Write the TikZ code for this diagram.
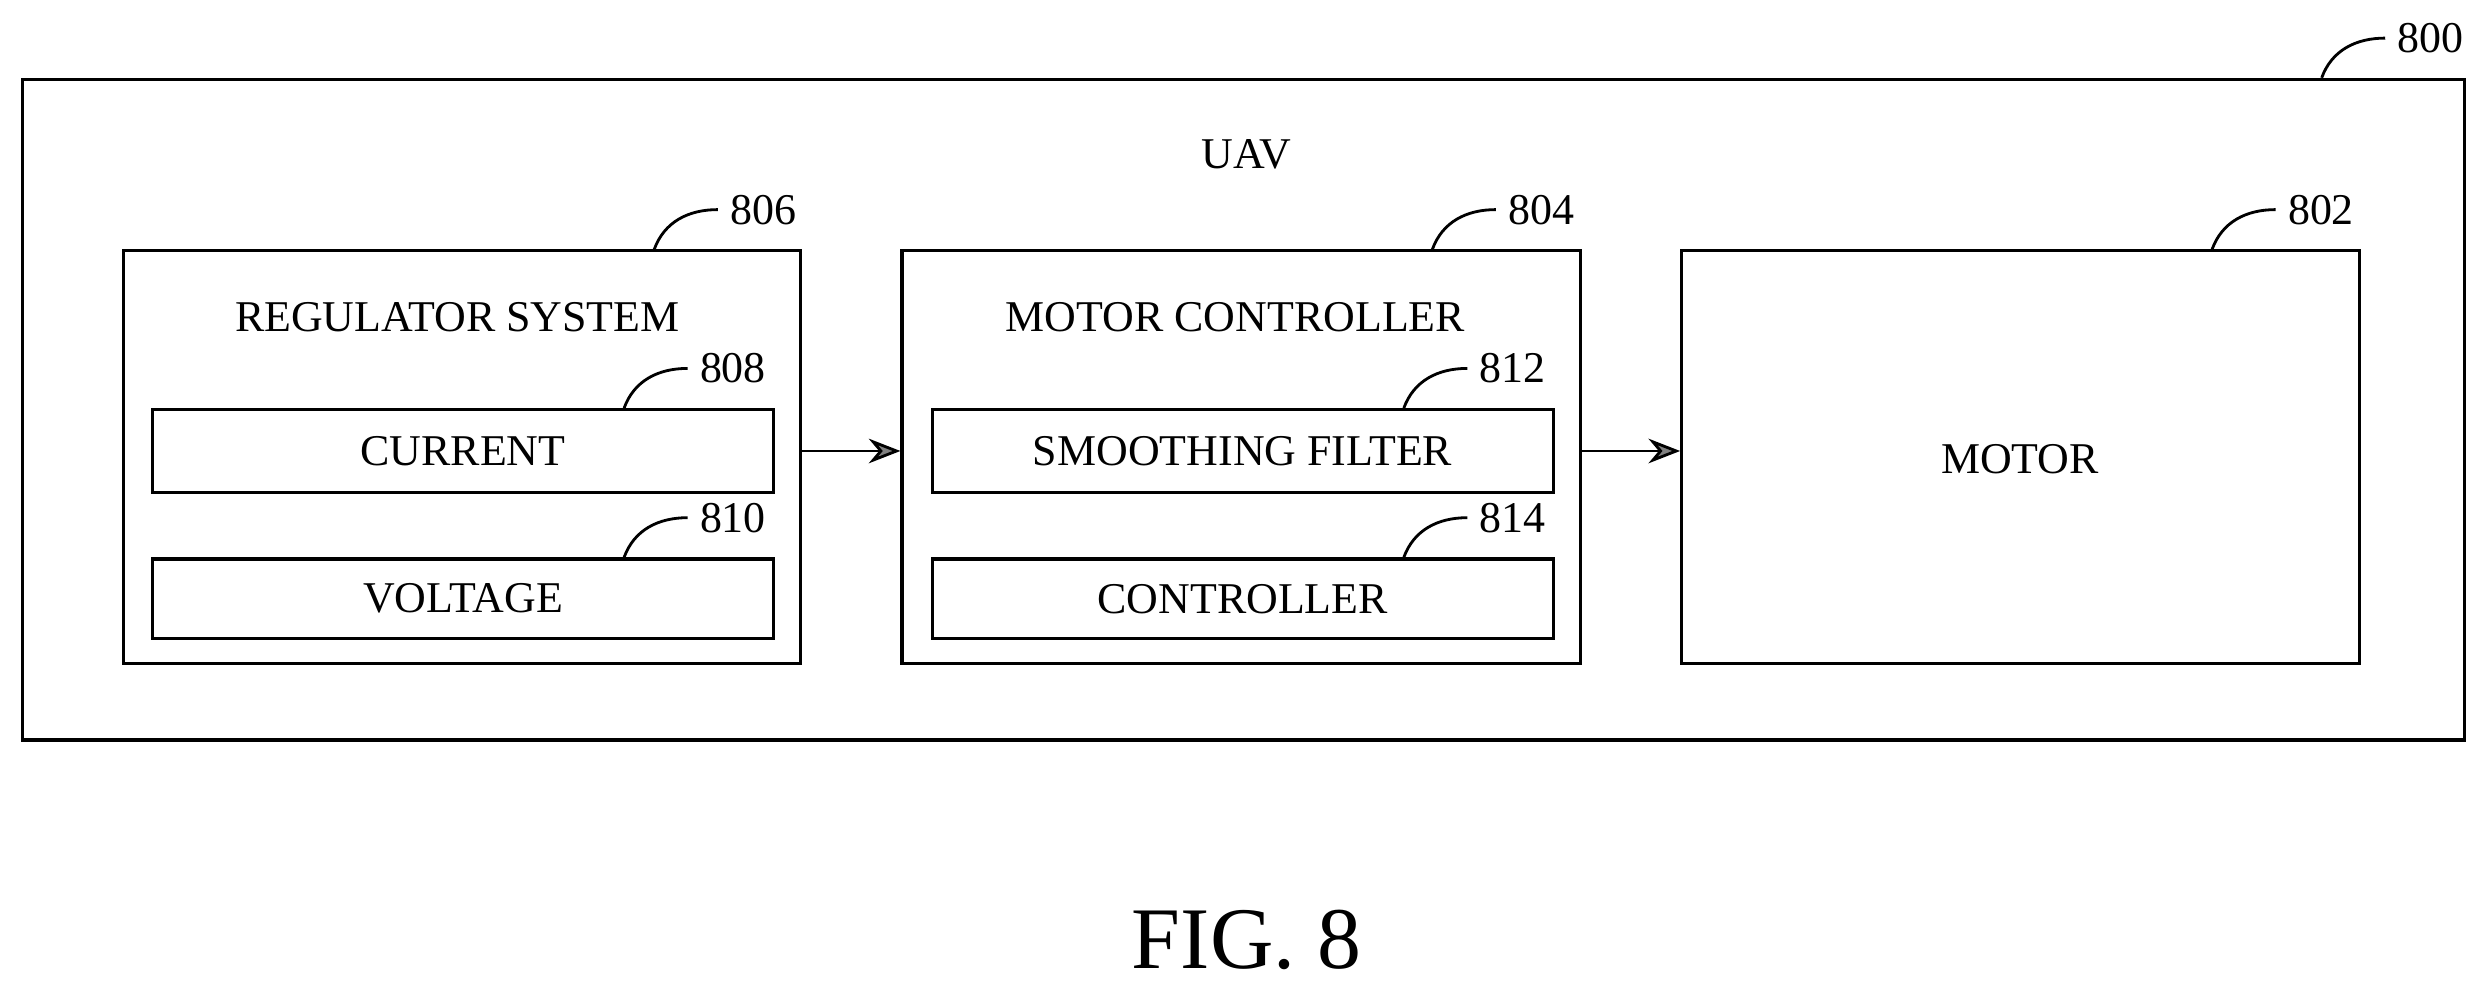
\documentclass[tikz,border=0pt]{standalone}
\usepackage{fontspec}
\setmainfont{Liberation Serif}
\usetikzlibrary{positioning,arrows.meta}
\tikzset{
  blk/.style={draw,line width=0.9pt,inner sep=0pt},
  txt/.style={font=\fontsize{12.5}{14}\selectfont},
  lead/.style={line width=0.8pt},
  flow/.style={line width=0.8pt,-{Stealth[length=9pt,width=7pt,fill=gray]}}
}
\newcommand{\refnum}[3]{% name, start, text
  \node[txt,anchor=west] (#1) at ($(#2)+(40,-25)$) {#3};
  \draw[lead] (#2) to[out=70,in=180] (#1.west);
}
\usetikzlibrary{calc}
\begin{document}
\begin{tikzpicture}[x=0.01588cm,y=-0.01588cm]
\useasboundingbox (0,0) rectangle (1568,625);
% frame
\node[blk,minimum width=1538*0.01588cm,minimum height=416*0.01588cm] (uav) at (783,258) {};
\node[txt] (uavt) at (785,97) {UAV};
% blocks
\node[blk,minimum width=426*0.01588cm,minimum height=260*0.01588cm] (reg) at (291,288) {};
\node[blk,minimum width=427*0.01588cm,minimum height=260*0.01588cm] (mc) at (781.5,288) {};
\node[blk,minimum width=427*0.01588cm,minimum height=260*0.01588cm] (mot) at (1272.5,288) {};
\node[txt] (regt) at (288,200) {REGULATOR SYSTEM};
\node[txt] (mct) at (778,200) {MOTOR CONTROLLER};
\node[txt] (mott) at (1272,289) {MOTOR};
% sub blocks
\node[blk,txt,minimum width=391*0.01588cm,minimum height=52*0.01588cm] (cur) at (291.5,284) {CURRENT};
\node[blk,txt,minimum width=391*0.01588cm,minimum height=50*0.01588cm] (vol) at (291.5,377) {VOLTAGE};
\node[blk,txt,minimum width=391*0.01588cm,minimum height=52*0.01588cm] (smf) at (782.5,284) {SMOOTHING FILTER};
\node[blk,txt,minimum width=391*0.01588cm,minimum height=50*0.01588cm] (ctl) at (782.5,377) {CONTROLLER};
% arrows
\draw[flow] (reg.east |- cur) -- (mc.west |- cur);
\draw[flow] (mc.east |- smf) -- (mot.west |- smf);
% reference numerals
\coordinate (p800) at (1462,49);
\coordinate (p806) at (412,157);
\coordinate (p804) at (902,157);
\coordinate (p802) at (1393,157);
\coordinate (p808) at (393,257);
\coordinate (p810) at (393,351);
\coordinate (p812) at (884,257);
\coordinate (p814) at (884,351);
\refnum{n800}{p800}{800}
\refnum{n806}{p806}{806}
\refnum{n804}{p804}{804}
\refnum{n802}{p802}{802}
\refnum{n808}{p808}{808}
\refnum{n810}{p810}{810}
\refnum{n812}{p812}{812}
\refnum{n814}{p814}{814}
\node[font=\fontsize{25}{28}\selectfont] (fig) at (785,592) {FIG. 8};
\end{tikzpicture}
\end{document}
